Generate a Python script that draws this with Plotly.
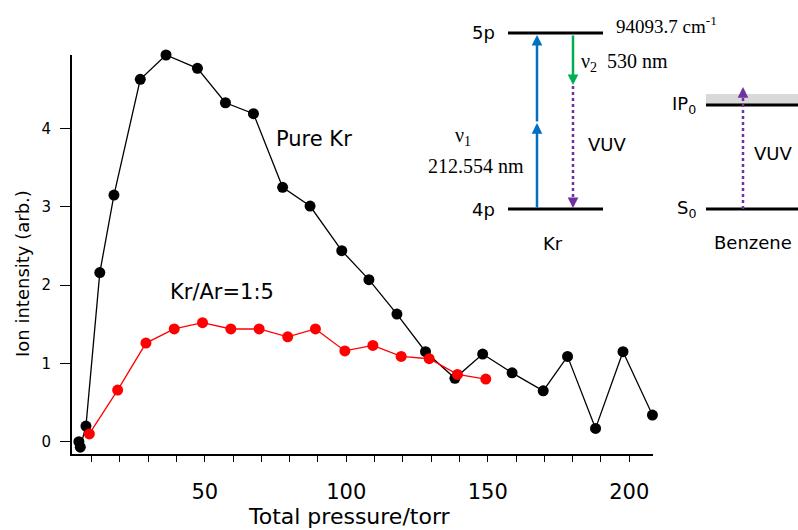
import plotly.graph_objects as go

# ---- data ----
kr_pressure = [5.5, 6, 8, 12.9, 17.9, 27.2, 36.3, 47.4, 57.3, 67.2, 77.5, 87.2, 98.4, 108,
               117.9, 128, 138.4, 148.2, 158.6, 169.6, 178.2, 188.1, 197.8, 208.2]
kr_signal = [0.0, -0.07, 0.2, 2.16, 3.15, 4.63, 4.94, 4.77, 4.33, 4.19, 3.25, 3.01, 2.44, 2.07,
             1.63, 1.15, 0.81, 1.12, 0.88, 0.65, 1.09, 0.17, 1.15, 0.34]
mix_pressure = [9.2, 19.2, 29.2, 39.2, 49.2, 59.2, 69.2, 79.3, 89.1, 99.5, 109.4, 119.4,
                129.3, 139.3, 149.3]
mix_signal = [0.10, 0.66, 1.26, 1.44, 1.52, 1.44, 1.44, 1.34, 1.44, 1.16, 1.23, 1.09,
              1.06, 0.86, 0.80]
x_ticks = [50, 100, 150, 200]
y_ticks = [0, 1, 2, 3, 4]

FONT = "DejaVu Sans"
SERIF = "Liberation Serif"
W, H = 798, 530
L, R, T, B = 72, 653, 55, 454  # target pixel positions in the window


def PX(x):
    return (x - L) / (R - L)


def PY(y):
    return (B - y) / (B - T)


fig = go.Figure()
fig.add_trace(go.Scatter(x=kr_pressure, y=kr_signal, mode="lines+markers",
                         line=dict(color="black", width=1.3),
                         marker=dict(color="black", size=11), cliponaxis=False))
fig.add_trace(go.Scatter(x=mix_pressure, y=mix_signal, mode="lines+markers",
                         line=dict(color="#ff0000", width=1.3),
                         marker=dict(color="#ff0000", size=11), cliponaxis=False))

shapes = []
annotations = []


def hline(x0, x1, y, color="black", width=3):
    shapes.append(dict(type="line", xref="paper", yref="paper", x0=PX(x0), x1=PX(x1),
                       y0=PY(y), y1=PY(y), line=dict(color=color, width=width)))


def vdot(x, y0, y1, color):
    shapes.append(dict(type="line", xref="paper", yref="paper", x0=PX(x), x1=PX(x),
                       y0=PY(y0), y1=PY(y1), line=dict(color=color, width=2.5, dash="dot")))


def arrow(x, y_head, y_tail, color):
    annotations.append(dict(x=PX(x), y=PY(y_head), xref="paper", yref="paper",
                            ax=0, ay=y_tail - y_head, axref="pixel", ayref="pixel",
                            text="", showarrow=True, arrowhead=2, arrowsize=0.85,
                            arrowwidth=2.5, arrowcolor=color))


def text(x, y, s, size=18, family=FONT, xanchor="left"):
    annotations.append(dict(x=PX(x), y=PY(y), xref="paper", yref="paper", text=s,
                            showarrow=False, xanchor=xanchor, yanchor="middle",
                            font=dict(family=family, size=size, color="black")))


# Kr level diagram
hline(508, 603, 33)
hline(508, 603, 209)
arrow(537, 123, 209, "#0070C0")
arrow(537, 35, 123, "#0070C0")
arrow(573, 85, 34, "#00B050")
vdot(573, 86, 203, "#7030A0")
arrow(573, 208, 199, "#7030A0")

# Benzene diagram
shapes.append(dict(type="rect", xref="paper", yref="paper", x0=PX(706), x1=PX(798),
                   y0=PY(104), y1=PY(94), fillcolor="#d9d9d9", line=dict(width=0)))
hline(706, 798, 105)
hline(706, 798, 209)
vdot(743, 209, 97, "#7030A0")
arrow(743, 87, 96, "#7030A0")

text(497, 33, "5p", xanchor="right")
text(497, 209, "4p", xanchor="right")
text(614, 25, "94093.7 cm<sup>-1</sup>", size=19, family=SERIF)
text(579, 62, "ν<sub>2</sub>  530 nm", size=20, family=SERIF)
text(463, 136, "ν<sub>1</sub>", size=20, family=SERIF, xanchor="center")
text(476, 166, "212.554 nm", size=20, family=SERIF, xanchor="center")
text(586, 144, "VUV")
text(553, 243, "Kr", xanchor="center")
text(698, 105, "IP<sub>0</sub>", xanchor="right")
text(698, 209, "S<sub>0</sub>", xanchor="right")
text(752, 153, "VUV")
text(753, 242, "Benzene", xanchor="center")

# plot labels
text(274, 139, "Pure Kr", size=21)
text(168, 292, "Kr/Ar=1:5", size=21)

# axis titles
text(349, 516, "Total pressure/torr", size=22, xanchor="center")
annotations.append(dict(x=PX(22), y=PY(274), xref="paper", yref="paper",
                        text="Ion intensity (arb.)", textangle=-90, showarrow=False,
                        xanchor="center", yanchor="middle",
                        font=dict(family=FONT, size=18, color="black")))

fig.update_layout(
    width=W, height=H,
    margin=dict(l=L, r=W - R, t=T, b=H - B, pad=0),
    paper_bgcolor="white", plot_bgcolor="white",
    showlegend=False, hovermode=False,
    shapes=shapes, annotations=annotations,
    font=dict(family=FONT, color="black"),
)
fig.update_xaxes(range=[3.07, 208.4], tickvals=x_ticks, ticks="outside", ticklen=6,
                 tickwidth=1.2, tickcolor="black", showline=True, linewidth=2,
                 linecolor="black", showgrid=False, zeroline=False,
                 tickfont=dict(family=FONT, size=21), ticklabelstandoff=12,
                 minor=dict(dtick=10, tick0=0, ticks="outside", ticklen=6,
                            tickwidth=1.2, tickcolor="black", showgrid=False))
fig.update_yaxes(range=[-0.157, 4.94], tickvals=y_ticks, ticks="outside", ticklen=10,
                 tickwidth=1.2, tickcolor="black", showline=True, linewidth=2,
                 linecolor="black", showgrid=False, zeroline=False,
                 tickfont=dict(family=FONT, size=15), ticklabelstandoff=6)

fig.write_html("out.html", config={"displayModeBar": False},
               post_script="document.body.style.margin='0';"
                           "document.body.style.overflow='hidden';")
